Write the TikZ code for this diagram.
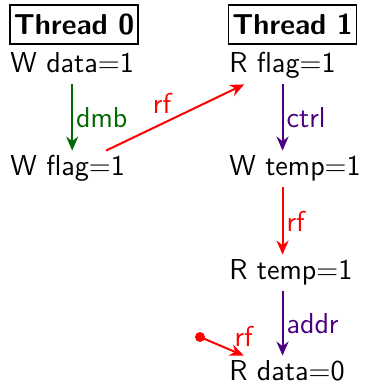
\documentclass[tikz,border=0pt]{standalone}
\usepackage{tikz}
\usetikzlibrary{
  arrows.meta,
  positioning
}
\definecolor{dmbgreen}{RGB}{0,105,0}
\definecolor{deppurple}{RGB}{75,0,130}
\definecolor{rfred}{RGB}{255,0,0}
\tikzset{
  thread/.style={draw,line width=0.6pt,font=\Large\sffamily\bfseries,
    minimum width=64pt,minimum height=19.5pt,inner sep=0pt},
  event/.style={anchor=base west,font=\Large\sffamily,inner xsep=0pt,
    inner ysep=2.5pt,text height=10pt,text depth=3pt},
  rel/.style={line width=1pt,-{Stealth[length=7pt,width=6pt]}},
  lbl/.style={font=\Large\sffamily,inner sep=1.5pt}
}

\begin{document}
\begin{tikzpicture}[x=0.5pt,y=0.5pt]
  \useasboundingbox (0,0) rectangle (364,385);
  % thread headers
  \node[thread] (t0) at (74,360.5) {Thread 0};
  \node[thread] (t1) at (292.5,360.5) {Thread 1};
  % events of thread 0
  \node[event] (wdata) at (10,312) {W data=1};
  \node[event] (wflag) at (10,209) {W flag=1};
  % events of thread 1
  \node[event] (rflag) at (229,312) {R flag=1};
  \node[event] (wtemp) at (229,209) {W temp=1};
  \node[event] (rtemp) at (229,105) {R temp=1};
  \node[event] (rdata) at (229,4) {R data=0};
  % initial write
  \coordinate (init) at (200,48);

  \draw[rel,dmbgreen] (wdata.south) -- (wdata.south |- wflag.north)
    node[midway,right,lbl] {dmb};
  \draw[rel,rfred] (wflag) -- (rflag)
    node[midway,above left,lbl] {rf};
  \draw[rel,deppurple] (rflag.south) -- (rflag.south |- wtemp.north)
    node[midway,right,lbl] {ctrl};
  \draw[rel,rfred] (rflag.south |- wtemp.south) -- (rflag.south |- rtemp.north)
    node[midway,right,lbl] {rf};
  \draw[rel,deppurple] (rflag.south |- rtemp.south) -- (rflag.south |- rdata.north)
    node[midway,right,lbl] {addr};
  \fill[rfred] (init) circle (5);
  \draw[rel,rfred] (init) -- (rdata)
    node[pos=0.7,above right,lbl] {rf};
\end{tikzpicture}
\end{document}
